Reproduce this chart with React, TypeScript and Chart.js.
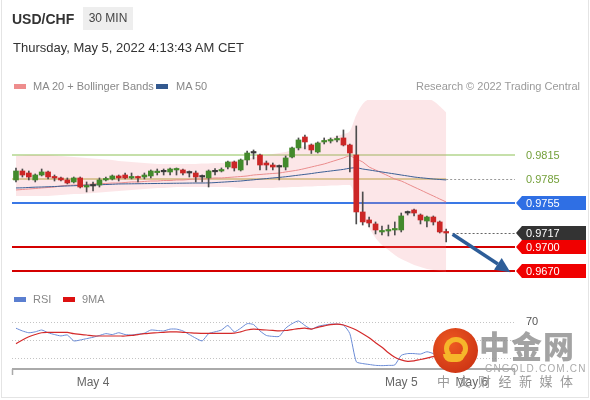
import React, { useEffect, useRef } from "react";
import { Chart, registerables } from "chart.js";
Chart.register(...registerables);

const FONT = '"Liberation Sans", Arial, Helvetica, sans-serif';

// ---- price data (30 min candles) ----
const OPEN = [
  0.97838, 0.9795, 0.97925, 0.97838, 0.979, 0.97938, 0.97875, 0.97863, 0.97838, 0.97813,
  0.97863, 0.9775, 0.97763, 0.97775, 0.97838, 0.9785, 0.97888, 0.979, 0.97863, 0.97875,
  0.97875, 0.97888, 0.9793, 0.9794, 0.97938, 0.97963, 0.97963, 0.97925, 0.97925, 0.97875,
  0.97863, 0.9794, 0.9795, 0.98, 0.98063, 0.97963, 0.98088, 0.98175, 0.9815, 0.9805,
  0.98025, 0.98, 0.98, 0.98125, 0.98238, 0.98375, 0.98275, 0.98188, 0.98313, 0.98325,
  0.98338, 0.98363, 0.98275, 0.9815, 0.97438, 0.97338, 0.97288, 0.97188, 0.972, 0.97213,
  0.97213, 0.97425, 0.97463, 0.974, 0.97325, 0.97375, 0.97313, 0.97188,
];
const HIGH = [
  0.97988, 0.97975, 0.9795, 0.97913, 0.97975, 0.9795, 0.979, 0.97875, 0.97863, 0.97875,
  0.97875, 0.97813, 0.97813, 0.97863, 0.97875, 0.979, 0.979, 0.97925, 0.97925, 0.97888,
  0.97925, 0.97963, 0.97975, 0.97975, 0.97988, 0.97988, 0.97975, 0.9795, 0.9795, 0.979,
  0.97963, 0.9798, 0.97988, 0.98075, 0.98075, 0.981, 0.982, 0.98213, 0.98163, 0.98075,
  0.9805, 0.98025, 0.98138, 0.9825, 0.98363, 0.984, 0.98288, 0.98313, 0.98363, 0.98363,
  0.98388, 0.98463, 0.98288, 0.98513, 0.97688, 0.97375, 0.97313, 0.97263, 0.97275, 0.97313,
  0.97425, 0.9745, 0.97475, 0.97413, 0.97388, 0.97388, 0.97325, 0.97225,
];
const LOW = [
  0.97813, 0.97875, 0.97838, 0.97813, 0.97888, 0.9785, 0.97825, 0.97825, 0.97788, 0.978,
  0.97738, 0.97688, 0.977, 0.9775, 0.97825, 0.97838, 0.97825, 0.9785, 0.9785, 0.97813,
  0.9785, 0.97863, 0.979, 0.979, 0.979, 0.979, 0.979, 0.97875, 0.97813, 0.97813,
  0.9775, 0.979, 0.97938, 0.97975, 0.9795, 0.9795, 0.98025, 0.981, 0.97963, 0.97963,
  0.97963, 0.97838, 0.97963, 0.98113, 0.98213, 0.98225, 0.98169, 0.98175, 0.98288, 0.983,
  0.98313, 0.98263, 0.97938, 0.97288, 0.97275, 0.9725, 0.97163, 0.9715, 0.97138, 0.9715,
  0.97188, 0.974, 0.97388, 0.97288, 0.9725, 0.97275, 0.97175, 0.97063,
];
const CLOSE = [
  0.9795, 0.979, 0.97875, 0.979, 0.97938, 0.97875, 0.97863, 0.97838, 0.978, 0.97863,
  0.9775, 0.97763, 0.9777, 0.97838, 0.9785, 0.97888, 0.97863, 0.97863, 0.97875, 0.97863,
  0.979, 0.9795, 0.9794, 0.9795, 0.97975, 0.97975, 0.97925, 0.9793, 0.97875, 0.9788,
  0.9795, 0.9795, 0.97963, 0.98063, 0.97988, 0.98088, 0.98175, 0.9818, 0.98025, 0.98025,
  0.98, 0.98005, 0.98113, 0.98238, 0.98338, 0.98313, 0.98213, 0.983, 0.98325, 0.98338,
  0.9835, 0.98275, 0.98175, 0.97438, 0.97313, 0.973, 0.97213, 0.972, 0.97213, 0.97225,
  0.97388, 0.9743, 0.97425, 0.97338, 0.97375, 0.97313, 0.97188, 0.97175,
];
const MA20 = [
  0.97713, 0.97719, 0.97725, 0.97731, 0.97738, 0.97744, 0.9775, 0.97763, 0.97769, 0.97775,
  0.97775, 0.97781, 0.97788, 0.97794, 0.97794, 0.978, 0.978, 0.97806, 0.97813, 0.97813,
  0.97819, 0.97825, 0.97825, 0.97831, 0.97831, 0.97838, 0.97838, 0.97844, 0.9785, 0.9785,
  0.97856, 0.97863, 0.97863, 0.97869, 0.97875, 0.97881, 0.97888, 0.979, 0.97906, 0.97913,
  0.97919, 0.97925, 0.97938, 0.9795, 0.97963, 0.97981, 0.98, 0.98019, 0.98038, 0.98063,
  0.98088, 0.98113, 0.98138, 0.981, 0.98063, 0.98, 0.97963, 0.97925, 0.97888, 0.9785,
  0.97825, 0.97788, 0.9775, 0.97713, 0.97675, 0.97638, 0.976, 0.97563,
];
const MA50 = [
  0.97738, 0.9774, 0.97744, 0.97748, 0.9775, 0.97753, 0.97756, 0.9776, 0.97763, 0.97766,
  0.97769, 0.97772, 0.97775, 0.97778, 0.97781, 0.97784, 0.97788, 0.97789, 0.9779, 0.97791,
  0.97792, 0.97793, 0.97794, 0.97795, 0.97796, 0.97797, 0.97798, 0.97799, 0.978, 0.978,
  0.97801, 0.97805, 0.9781, 0.97815, 0.9782, 0.97825, 0.97833, 0.9784, 0.97848, 0.97855,
  0.97863, 0.9787, 0.97878, 0.97888, 0.97898, 0.97908, 0.97918, 0.9793, 0.9794, 0.9795,
  0.9796, 0.9797, 0.97985, 0.9799, 0.97975, 0.97963, 0.9795, 0.97938, 0.97925, 0.97913,
  0.979, 0.97888, 0.97875, 0.97866, 0.97858, 0.9785, 0.97844, 0.97838,
];
const BB_UPPER = [
  0.98138, 0.98144, 0.9815, 0.9815, 0.9815, 0.9815, 0.98144, 0.98138, 0.98131, 0.98125,
  0.98119, 0.98113, 0.98106, 0.981, 0.98094, 0.98088, 0.98075, 0.98069, 0.98063, 0.98056,
  0.9805, 0.98044, 0.98038, 0.98038, 0.98038, 0.98038, 0.98038, 0.98038, 0.98038, 0.98044,
  0.98044, 0.9805, 0.9805, 0.98063, 0.98075, 0.98088, 0.981, 0.98125, 0.98138, 0.9815,
  0.98163, 0.98175, 0.98188, 0.98213, 0.98238, 0.98263, 0.98288, 0.98313, 0.98338, 0.98363,
  0.98388, 0.98413, 0.9845, 0.9865, 0.98788, 0.9885, 0.98875, 0.98888, 0.98888, 0.98888,
  0.98888, 0.98888, 0.98888, 0.9888, 0.9886, 0.98825, 0.9876, 0.9868,
];
const BB_LOWER = [
  0.97638, 0.97638, 0.97638, 0.97638, 0.97638, 0.97638, 0.97644, 0.9765, 0.97656, 0.97663,
  0.97663, 0.97669, 0.97675, 0.97681, 0.97688, 0.97694, 0.977, 0.97706, 0.97713, 0.97719,
  0.97725, 0.97731, 0.97738, 0.97738, 0.97744, 0.9775, 0.9775, 0.9775, 0.9775, 0.9775,
  0.9775, 0.9775, 0.9775, 0.9775, 0.97744, 0.97738, 0.97738, 0.97738, 0.97738, 0.97738,
  0.97738, 0.97744, 0.97744, 0.9775, 0.9775, 0.97756, 0.97756, 0.97763, 0.97763, 0.97769,
  0.97769, 0.97775, 0.97775, 0.97588, 0.974, 0.97238, 0.97113, 0.97025, 0.96963, 0.969,
  0.9685, 0.96813, 0.96775, 0.9675, 0.96725, 0.96713, 0.967, 0.96688,
];

// ---- RSI panel ----
const RSI = [
  63, 60, 58, 59, 61, 58, 56, 54.5, 55.5, 49,
  50, 51.5, 53, 55, 57, 56, 58, 56, 55.5, 56.5,
  57.5, 61, 60.5, 60, 62, 62, 60, 56, 52, 49,
  57, 59, 61, 66, 59, 63, 68, 67, 60, 55,
  54, 54, 63, 68, 71, 66, 62, 65, 66.5, 67.5,
  67.5, 66.5, 57, 26, 24, 23, 22, 21.7, 22, 22.5,
  33, 35, 35, 34.5, 37, 35, 31, 29,
];
const RSI_MA9 = [
  46, 50, 53.5, 56, 58, 58.4, 58.4, 58.4, 58.4, 57,
  56.3, 55.5, 54.5, 54.4, 54.4, 54.4, 54.4, 54.4, 55, 56,
  57, 57.5, 58, 58.5, 59, 59, 58.5, 58, 57.5, 57.4,
  57.4, 57.4, 57.4, 57.4, 57.5, 59, 61, 62, 61.5, 61,
  60.5, 60, 60.5, 61.5, 62.5, 63, 62, 64, 65.5, 67,
  67.6, 66.5, 64, 61, 57, 52.5, 47, 42, 36, 31,
  28, 26.5, 27, 28.5, 30, 31.6, 32, 32,
];
const RSI_GRID = [30, 50, 70];
const RSI_LABELS = [70];

// ---- levels & annotations ----
const LEVELS = [0.9815, 0.9785, 0.9755, 0.9717, 0.97, 0.967];
const LEVEL_TEXT = ["0.9815", "0.9785", "0.9755", "0.9717", "0.9700", "0.9670"];
const ARROW_FROM = { x: 68, y: 0.9716 };
const ARROW_TO = { x: 77, y: 0.96685 };

// ---- x axis ----
const X_TICK_INDEX = [12, 60, 71];
const X_TICK_TEXT = ["May 4", "May 5", "May 6"];
const X_MIN = -0.62;
const X_MAX = 77.72;
const Y_MIN = 0.9665;
const Y_MAX = 0.988375;

const idx = OPEN.map((_, i) => i);

function tagPath(ctx: CanvasRenderingContext2D, x0: number, yc: number, w: number, h: number) {
  ctx.beginPath();
  ctx.moveTo(x0, yc);
  ctx.lineTo(x0 + 6, yc - h / 2);
  ctx.lineTo(x0 + w, yc - h / 2);
  ctx.lineTo(x0 + w, yc + h / 2);
  ctx.lineTo(x0 + 6, yc + h / 2);
  ctx.closePath();
}

const levelsPlugin = {
  id: "levels",
  beforeDatasetsDraw(chart: any) {
    const { ctx, chartArea, scales } = chart;
    const { left, right } = chartArea;
    const y = scales.y;
    const x = scales.x;
    const lastX = x.getPixelForValue(idx.length - 1);
    const h = (v: number, x0: number, x1: number, color: string, w: number, dash: number[] = []) => {
      const py = Math.round(y.getPixelForValue(v)) + (w === 1 ? 0.5 : 0);
      ctx.save();
      ctx.strokeStyle = color;
      ctx.lineWidth = w;
      ctx.setLineDash(dash);
      ctx.beginPath();
      ctx.moveTo(x0, py);
      ctx.lineTo(x1, py);
      ctx.stroke();
      ctx.restore();
    };
    h(LEVELS[0], left, right, "#c6e0aa", 2);
    h(LEVELS[1], left, lastX, "#d8d49c", 2);
    h(LEVELS[1], lastX, right, "#999999", 1, [2, 2]);
    h(LEVELS[2], left, right, "#3a78e6", 2);
    h(LEVELS[4], left, right, "#d40000", 2);
    h(LEVELS[5], left, right, "#d40000", 2);
  },
  afterDatasetsDraw(chart: any) {
    const { ctx, chartArea, scales } = chart;
    const { right } = chartArea;
    const y = scales.y;
    const x = scales.x;
    ctx.save();
    const py = Math.round(y.getPixelForValue(LEVELS[3])) + 0.5;
    ctx.strokeStyle = "#666";
    ctx.lineWidth = 1;
    ctx.setLineDash([2, 2]);
    ctx.beginPath();
    ctx.moveTo(x.getPixelForValue(ARROW_FROM.x), py);
    ctx.lineTo(right, py);
    ctx.stroke();
    ctx.setLineDash([]);

    const ax0 = x.getPixelForValue(ARROW_FROM.x);
    const ay0 = y.getPixelForValue(ARROW_FROM.y);
    const ax1 = x.getPixelForValue(ARROW_TO.x);
    const ay1 = y.getPixelForValue(ARROW_TO.y);
    const ang = Math.atan2(ay1 - ay0, ax1 - ax0);
    const hl = 15;
    const hw = 7;
    const bx = ax1 - hl * Math.cos(ang);
    const by = ay1 - hl * Math.sin(ang);
    ctx.strokeStyle = "#2d5d98";
    ctx.fillStyle = "#2d5d98";
    ctx.lineWidth = 3.5;
    ctx.beginPath();
    ctx.moveTo(ax0, ay0);
    ctx.lineTo(bx, by);
    ctx.stroke();
    ctx.beginPath();
    ctx.moveTo(ax1, ay1);
    ctx.lineTo(bx + hw * Math.sin(ang), by - hw * Math.cos(ang));
    ctx.lineTo(bx - hw * Math.sin(ang), by + hw * Math.cos(ang));
    ctx.closePath();
    ctx.fill();

    const x0 = right + 1;
    ctx.font = `11px ${FONT}`;
    ctx.textBaseline = "middle";
    ctx.textAlign = "left";
    const plain = (i: number) => {
      ctx.fillStyle = "#74a03a";
      ctx.fillText(LEVEL_TEXT[i], x0 + 10, y.getPixelForValue(LEVELS[i]) + 0.5);
    };
    const tag = (i: number, bg: string) => {
      const yc = Math.round(y.getPixelForValue(LEVELS[i]));
      ctx.fillStyle = bg;
      tagPath(ctx, x0, yc, 70, 14);
      ctx.fill();
      ctx.fillStyle = "#ffffff";
      ctx.fillText(LEVEL_TEXT[i], x0 + 10, yc + 0.5);
    };
    plain(0);
    plain(1);
    tag(2, "#2f6fe4");
    tag(3, "#333333");
    tag(4, "#f00000");
    tag(5, "#f00000");
    ctx.restore();
  },
};

const rsiPlugin = {
  id: "rsiDecor",
  beforeDatasetsDraw(chart: any) {
    const { ctx, chartArea, scales } = chart;
    const { left, right, bottom } = chartArea;
    const y = scales.y;
    const x = scales.x;
    ctx.save();
    ctx.strokeStyle = "#c4c4c4";
    ctx.lineWidth = 1;
    ctx.setLineDash([1, 2]);
    RSI_GRID.forEach((v) => {
      const py = Math.round(y.getPixelForValue(v)) + 0.5;
      ctx.beginPath();
      ctx.moveTo(left, py);
      ctx.lineTo(right, py);
      ctx.stroke();
    });
    ctx.setLineDash([]);
    ctx.strokeStyle = "#aaaaaa";
    ctx.lineWidth = 2;
    ctx.beginPath();
    ctx.moveTo(left, bottom);
    ctx.lineTo(right, bottom);
    ctx.stroke();
    ctx.lineWidth = 1.5;
    ctx.beginPath();
    ctx.moveTo(left + 0.5, bottom);
    ctx.lineTo(left + 0.5, bottom + 6);
    ctx.moveTo(right - 0.5, bottom);
    ctx.lineTo(right - 0.5, bottom + 6);
    ctx.stroke();
    ctx.font = `11px ${FONT}`;
    ctx.fillStyle = "#555";
    ctx.textBaseline = "middle";
    ctx.textAlign = "left";
    RSI_LABELS.forEach((v) => ctx.fillText(String(v), right + 11, y.getPixelForValue(v)));
    ctx.font = `12px ${FONT}`;
    ctx.fillStyle = "#666";
    ctx.textAlign = "center";
    X_TICK_INDEX.forEach((v, i) => ctx.fillText(X_TICK_TEXT[i], x.getPixelForValue(v), bottom + 14));
    ctx.restore();
  },
};

export default function App() {
  const mainRef = useRef<HTMLCanvasElement>(null);
  const rsiRef = useRef<HTMLCanvasElement>(null);

  useEffect(() => {
    const bodyColors = idx.map((i) => {
      const d = CLOSE[i] - OPEN[i];
      if (Math.abs(d) < 0.0001) return "#3a3a3a";
      return d > 0 ? "#438a2c" : "#cc2626";
    });
    const main = new Chart(mainRef.current as HTMLCanvasElement, {
      type: "bar",
      data: {
        datasets: [
          {
            type: "bar",
            data: idx.map((i) => ({ x: i, y: [OPEN[i], CLOSE[i]] })),
            backgroundColor: bodyColors,
            barThickness: 5,
            grouped: false,
            minBarLength: 1.5,
            order: 0,
          } as any,
          {
            type: "bar",
            data: idx.map((i) => ({ x: i, y: [LOW[i], HIGH[i]] })),
            backgroundColor: "#4d4d4d",
            barThickness: 1,
            grouped: false,
            order: 1,
          } as any,
          {
            type: "line",
            data: idx.map((i) => ({ x: i, y: MA50[i] })),
            borderColor: "#3b5f95",
            borderWidth: 1,
            pointRadius: 0,
            tension: 0.3,
            fill: false,
            order: 2,
          },
          {
            type: "line",
            data: idx.map((i) => ({ x: i, y: MA20[i] })),
            borderColor: "#ea8c8c",
            borderWidth: 1,
            pointRadius: 0,
            tension: 0.3,
            fill: false,
            order: 3,
          },
          {
            type: "line",
            data: idx.map((i) => ({ x: i, y: BB_UPPER[i] })),
            borderWidth: 0,
            borderColor: "rgba(0,0,0,0)",
            pointRadius: 0,
            cubicInterpolationMode: "monotone",
            fill: false,
            order: 5,
          },
          {
            type: "line",
            data: idx.map((i) => ({ x: i, y: BB_LOWER[i] })),
            borderWidth: 0,
            borderColor: "rgba(0,0,0,0)",
            pointRadius: 0,
            cubicInterpolationMode: "monotone",
            fill: "-1",
            backgroundColor: "rgba(240,130,140,0.2)",
            order: 4,
          },
        ],
      },
      options: {
        responsive: false,
        animation: false,
        layout: { padding: { left: 12, right: 75, top: 100, bottom: 125 } },
        plugins: { legend: { display: false }, tooltip: { enabled: false } },
        events: [],
        scales: {
          x: { type: "linear", min: X_MIN, max: X_MAX, display: false, offset: false },
          y: { type: "linear", min: Y_MIN, max: Y_MAX, display: false },
        },
      },
      plugins: [levelsPlugin],
    });

    const rsi = new Chart(rsiRef.current as HTMLCanvasElement, {
      type: "line",
      data: {
        datasets: [
          {
            data: idx.map((i) => ({ x: i, y: RSI[i] })),
            borderColor: "#6a8bd6",
            borderWidth: 1,
            pointRadius: 0,
            tension: 0.2,
            order: 1,
          },
          {
            data: idx.map((i) => ({ x: i, y: RSI_MA9[i] })),
            borderColor: "#d42a2a",
            borderWidth: 1.2,
            pointRadius: 0,
            tension: 0.3,
            order: 0,
          },
        ],
      },
      options: {
        responsive: false,
        animation: false,
        layout: { padding: { left: 12, right: 75, top: 305, bottom: 31 } },
        plugins: { legend: { display: false }, tooltip: { enabled: false } },
        events: [],
        scales: {
          x: { type: "linear", min: X_MIN, max: X_MAX, display: false },
          y: { type: "linear", min: 18, max: 88.6, display: false },
        },
      },
      plugins: [rsiPlugin],
    });
    return () => {
      main.destroy();
      rsi.destroy();
    };
  }, []);

  const abs = (s: React.CSSProperties): React.CSSProperties => ({ position: "absolute", whiteSpace: "nowrap", ...s });

  return (
    <div
      style={{
        position: "fixed",
        left: 0,
        top: 0,
        width: 590,
        height: 400,
        background: "#fff",
        overflow: "hidden",
        fontFamily: FONT,
      }}
    >
      <div style={abs({ left: 1, top: -1, width: 588, height: 399, border: "1px solid #e4e4e4", boxSizing: "border-box" })} />
      <canvas ref={mainRef} width={590} height={400} style={{ position: "absolute", left: 0, top: 0 }} />
      <canvas ref={rsiRef} width={590} height={400} style={{ position: "absolute", left: 0, top: 0 }} />

      <div style={abs({ left: 12, top: 10, fontSize: 14, lineHeight: "18px", fontWeight: "bold", color: "#333" })}>USD/CHF</div>
      <div
        style={abs({
          left: 83,
          top: 7,
          width: 50,
          height: 23,
          background: "#eeeeee",
          fontSize: 12,
          lineHeight: "23px",
          textAlign: "center",
          color: "#444",
        })}
      >
        30 MIN
      </div>
      <div style={abs({ left: 13, top: 40, fontSize: 13, lineHeight: "16px", color: "#333" })}>
        Thursday, May 5, 2022 4:13:43 AM CET
      </div>

      <div style={abs({ left: 14, top: 84, width: 12, height: 5, background: "#ee8d8d" })} />
      <div style={abs({ left: 33, top: 79, fontSize: 11, lineHeight: "14px", color: "#888" })}>MA 20 + Bollinger Bands</div>
      <div style={abs({ left: 156, top: 84, width: 12, height: 5, background: "#33598f" })} />
      <div style={abs({ left: 176, top: 79, fontSize: 11, lineHeight: "14px", color: "#888" })}>MA 50</div>
      <div style={abs({ right: 10, top: 79, fontSize: 11, lineHeight: "14px", color: "#9a9a9a" })}>
        Research © 2022 Trading Central
      </div>

      <div style={abs({ left: 14, top: 297, width: 12, height: 5, background: "#5b7fd0" })} />
      <div style={abs({ left: 33, top: 292, fontSize: 11, lineHeight: "14px", color: "#888" })}>RSI</div>
      <div style={abs({ left: 63, top: 297, width: 12, height: 5, background: "#dd1111" })} />
      <div style={abs({ left: 82, top: 292, fontSize: 11, lineHeight: "14px", color: "#888" })}>9MA</div>

      {/* watermark */}
      <div
        style={abs({
          left: 433,
          top: 328,
          width: 45,
          height: 45,
          borderRadius: "50%",
          background: "radial-gradient(circle at 40% 35%, #ee5a22, #c42a10)",
        })}
      >
        <div
          style={abs({
            left: 11,
            top: 9,
            width: 14,
            height: 13,
            border: "5px solid #f6b62a",
            borderRadius: "50%",
            borderBottomColor: "transparent",
          })}
        />
        <div style={abs({ left: 10, top: 26, width: 22, height: 8, background: "#f6b62a", borderRadius: "0 0 12px 12px" })} />
      </div>
      <div
        style={abs({
          left: 479,
          top: 327,
          fontSize: 31,
          lineHeight: "36px",
          fontWeight: 900,
          color: "rgba(140,140,140,0.8)",
          fontFamily: '"Noto Sans CJK SC", sans-serif',
          letterSpacing: 1,
        })}
      >
        中金网
      </div>
      <div style={abs({ left: 485, top: 363, fontSize: 10, lineHeight: "11px", letterSpacing: 1.2, color: "#aaa" })}>
        CNGOLD.COM.CN
      </div>
      <div
        style={abs({
          left: 437,
          top: 373,
          fontSize: 13,
          lineHeight: "16px",
          letterSpacing: 2.3,
          color: "#9a9a9a",
          fontFamily: '"Noto Sans CJK SC", sans-serif',
        })}
      >
        中 文 财 经 新 媒 体
      </div>
    </div>
  );
}
